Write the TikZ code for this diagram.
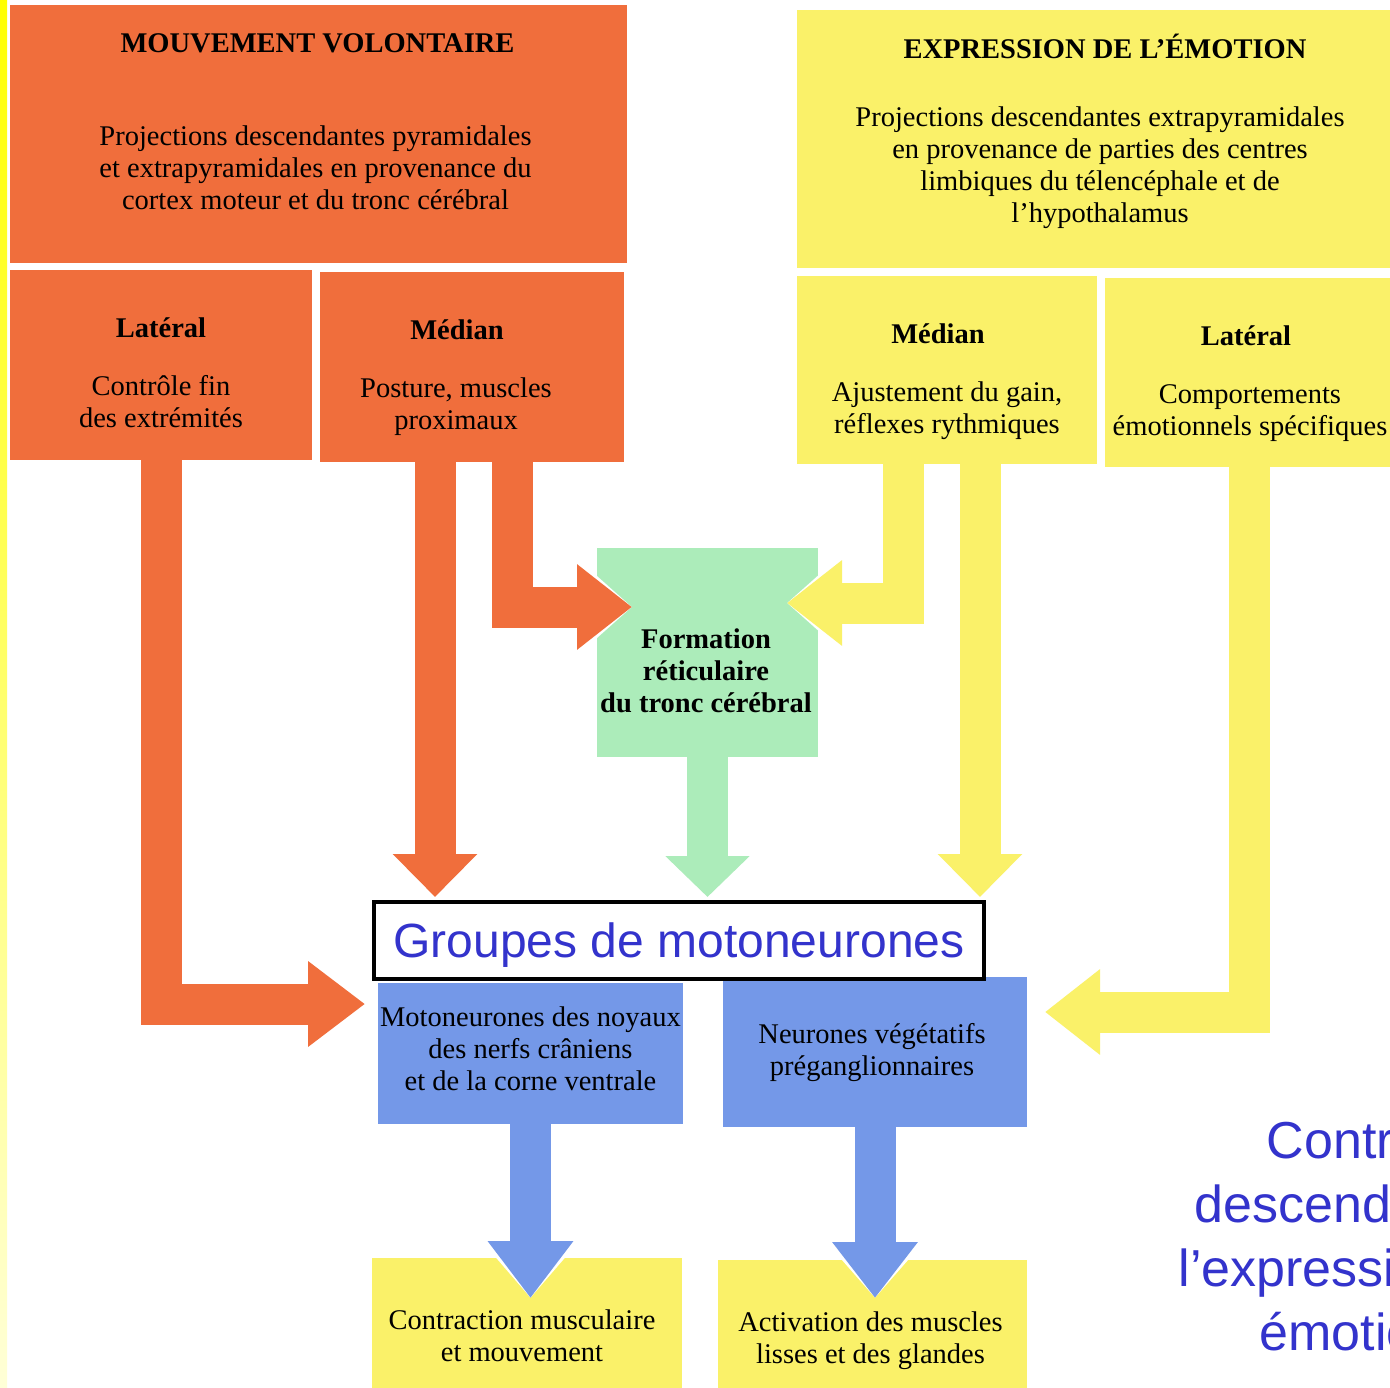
\documentclass[tikz,border=0pt]{standalone}
\usepackage{fontspec}
\setmainfont{Liberation Serif}
\newfontfamily\arialfont{Liberation Sans}
\usetikzlibrary{arrows.meta}
\definecolor{orangeC}{RGB}{240,110,60}
\definecolor{yellowC}{RGB}{250,241,105}
\definecolor{greenC}{RGB}{172,236,186}
\definecolor{blueC}{RGB}{116,152,232}
\definecolor{textC}{RGB}{51,51,204}
\definecolor{stripTop}{RGB}{255,255,0}
\definecolor{stripBot}{RGB}{255,255,215}
\begin{document}
\begin{tikzpicture}[x=1pt, y=-1pt,
        box/.style={rectangle, inner sep=0pt, outer sep=0pt},
        txt/.style={align=center, font=\fontsize{28.5}{32}\selectfont},
        hd/.style={align=center, font=\bfseries\fontsize{28.5}{32}\selectfont},
        fat/.style 2 args={draw=#1, line width=41pt, -{Triangle[width=82pt,length=#2]},
            preaction={draw=white, line width=47pt, -{Triangle[width=94pt,length=#2]}}}]
    \useasboundingbox (0,0) rectangle (1390,1388);
    \clip (0,0) rectangle (1390,1388);
    \shade[top color=stripTop, bottom color=stripBot] (0,0) rectangle (7,1388);
    % boxes
    \node[box, fill=orangeC, minimum width=617pt, minimum height=258pt] (mv) at (318.5,134) {};
    \node[box, fill=orangeC, minimum width=302pt, minimum height=190pt] (latO) at (161,365) {};
    \node[box, fill=orangeC, minimum width=304pt, minimum height=190pt] (medO) at (472,367) {};
    \node[box, fill=yellowC, minimum width=596pt, minimum height=258pt] (em) at (1095,139) {};
    \node[box, fill=yellowC, minimum width=300pt, minimum height=188pt] (medY) at (947,370) {};
    \node[box, fill=yellowC, minimum width=288pt, minimum height=189pt] (latY) at (1249,372.5) {};
    \node[box, fill=greenC, minimum width=221pt, minimum height=209pt] (reti) at (707.5,652.5) {};
    \node[box, fill=blueC, minimum width=305pt, minimum height=141pt] (motoL) at (530.5,1053.5) {};
    \node[box, fill=blueC, minimum width=304pt, minimum height=150pt] (motoR) at (875,1052) {};
    \node[box, fill=yellowC, minimum width=310pt, minimum height=134pt] (contr) at (527,1325) {};
    \node[box, fill=yellowC, minimum width=309pt, minimum height=132pt] (activ) at (872.5,1326) {};
    % texts
    \node[hd] (mvT) at ([xshift=-1pt,yshift=-38pt]mv.north) {MOUVEMENT VOLONTAIRE};
    \node[txt] (mvB) at ([xshift=-3pt,yshift=-163pt]mv.north)
        {Projections descendantes pyramidales\\et extrapyramidales en provenance du\\cortex moteur et du tronc cérébral};
    \node[hd] (latOT) at ([yshift=-58pt]latO.north) {Latéral};
    \node[txt] (latOB) at ([yshift=-132pt]latO.north) {Contrôle fin\\des extrémités};
    \node[hd] (medOT) at ([xshift=-15pt,yshift=-58pt]medO.north) {Médian};
    \node[txt] (medOB) at ([xshift=-16pt,yshift=-135pt]medO.north) {Posture, muscles\\proximaux};
    \node[hd] (emT) at ([xshift=10pt,yshift=-36pt]em.north) {EXPRESSION DE L’ÉMOTION};
    \node[txt] (emB) at ([xshift=5pt,yshift=-158pt]em.north)
        {Projections descendantes extrapyramidales\\en provenance de parties des centres\\limbiques du télencéphale et de\\l’hypothalamus};
    \node[hd] (medYT) at ([xshift=-9pt,yshift=-58pt]medY.north) {Médian};
    \node[txt] (medYB) at ([yshift=-135pt]medY.north) {Ajustement du gain,\\réflexes rythmiques};
    \node[hd] (latYT) at ([xshift=-3pt,yshift=-58pt]latY.north) {Latéral};
    \node[txt] (latYB) at ([xshift=1pt,yshift=-135pt]latY.north) {Comportements\\émotionnels spécifiques};
    \node[hd] (retiT) at ([xshift=-1.5pt,yshift=-18.5pt]reti.center) {Formation\\réticulaire\\du tronc cérébral};
    \node[txt] (motoLT) at ([yshift=4.5pt]motoL.center) {Motoneurones des noyaux\\des nerfs crâniens\\et de la corne ventrale};
    \node[txt] (motoRT) at ([xshift=-3pt,yshift=-1pt]motoR.center) {Neurones végétatifs\\préganglionnaires};
    \node[txt] (contrT) at ([xshift=-5pt,yshift=-78pt]contr.north) {Contraction musculaire\\et mouvement};
    \node[txt] (activT) at ([xshift=-2pt,yshift=-81pt]activ.north) {Activation des muscles\\lisses et des glandes};
    \node[align=center, text=textC, font=\arialfont\fontsize{52}{64}\selectfont] (ctrl) at (1365,1236)
        {Contrôle\\descendant de\\l’expression des\\émotions};
    % arrows
    \draw[fat={orangeC}{57pt}] (latO.south) |- ([xshift=-13pt,yshift=49.5pt]motoL.west);
    \draw[fat={orangeC}{55pt}] ([xshift=40pt]medO.south) |- ([xshift=35pt,yshift=45.5pt]reti.west);
    \draw[fat={yellowC}{55pt}] ([xshift=-44pt]medY.south) |- ([xshift=-31pt,yshift=49.5pt]reti.east);
    \draw[fat={yellowC}{55pt}] (latY.south) |- ([xshift=18pt,yshift=40pt]motoR.east);
    \node[box, draw=black, line width=4pt, fill=white, minimum width=610pt, minimum height=77pt, text depth=0pt,
        text=textC, font=\arialfont\fontsize{48}{56}\selectfont] (grp) at (679,940.5) {Groupes de motoneurones};
    \draw[fat={orangeC}{43pt}] ([xshift=-37pt]medO.south) -- ([xshift=-37pt,yshift=5pt]medO.south |- grp.north);
    \draw[fat={greenC}{41pt}] (reti.south) -- ([yshift=5pt]reti.south |- grp.north);
    \draw[fat={yellowC}{43pt}] ([xshift=33pt]medY.south) -- ([xshift=33pt,yshift=5pt]medY.south |- grp.north);
    \draw[fat={blueC}{57pt}] (motoL.south) -- ([yshift=-40pt]motoL.south |- contr.north);
    \draw[fat={blueC}{56pt}] (motoR.south) -- ([yshift=-38pt]motoR.south |- activ.north);
\end{tikzpicture}
\end{document}
